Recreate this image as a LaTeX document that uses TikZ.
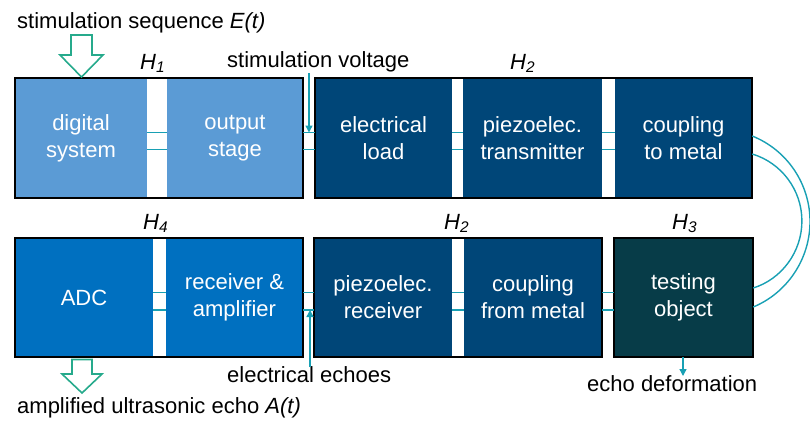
\documentclass[tikz,border=0pt]{standalone}
\usepackage{fontspec}
\setmainfont{Liberation Sans}
\usetikzlibrary{arrows.meta}
\definecolor{lblue}{HTML}{5B9BD5}
\definecolor{navy}{HTML}{004678}
\definecolor{mblue}{HTML}{0070C0}
\definecolor{dteal}{HTML}{073C48}
\definecolor{tline}{HTML}{18A0B4}
\definecolor{hollow}{HTML}{26AA8C}
\tikzset{
  blk/.style={rectangle, inner sep=0pt, minimum height=120pt, text=white, align=center,
    font=\fontsize{22}{27}\selectfont},
  frame/.style={draw=black, line width=2.5pt},
  conn/.style={draw=tline, line width=1.4pt},
  sig/.style={draw=tline, line width=1.4pt, -{Triangle[length=7pt,width=7pt]}},
  lbl/.style={inner sep=0pt, text=black, font=\fontsize{22}{27}\selectfont},
  hol/.style={draw=hollow, line width=1.6pt, fill=white, line join=miter},
}
\begin{document}
\begin{tikzpicture}[x=1pt,y=-1pt]
\useasboundingbox (0,0) rectangle (810,421);
% top row
\node[blk, fill=lblue, minimum width=132pt] (ds) at (81,138) {digital\\system};
\node[blk, fill=lblue, minimum width=136pt] (os) at (235,138) {output\\stage};
\node[blk, fill=navy, minimum width=137pt] (el) at (383.5,138) {electrical\\load};
\node[blk, fill=navy, minimum width=139pt] (pt) at (532.5,138) {piezoelec.\\transmitter};
\node[blk, fill=navy, minimum width=137pt] (cm) at (683.5,138) {coupling\\to metal};
% bottom row
\node[blk, fill=mblue, minimum width=138pt, minimum height=119pt] (adc) at (84,297.5) {ADC};
\node[blk, fill=mblue, minimum width=137pt, minimum height=119pt] (ra) at (234.5,297.5) {receiver \&\\amplifier};
\node[blk, fill=navy, minimum width=138pt, minimum height=119pt] (pr) at (383,297.5) {piezoelec.\\receiver};
\node[blk, fill=navy, minimum width=138pt, minimum height=119pt] (cf) at (533,297.5) {coupling\\from metal};
\node[blk, fill=dteal, minimum width=139pt, minimum height=119pt] (to) at (683.5,297.5) {testing\\object};
% frames
\draw[frame] (ds.north west) rectangle (os.south east);
\draw[frame] (el.north west) rectangle (cm.south east);
\draw[frame] (adc.north west) rectangle (ra.south east);
\draw[frame] (pr.north west) rectangle (cf.south east);
\draw[frame] (to.north west) rectangle (to.south east);
% connectors top row
\foreach \a/\b in {ds/os, os/el, el/pt, pt/cm}{
  \draw[conn] (\a.east |- 0,132.5) -- (\b.west |- 0,132.5);
  \draw[conn] (\a.east |- 0,149.5) -- (\b.west |- 0,149.5);
}
% connectors bottom row
\foreach \a/\b in {adc/ra, ra/pr, pr/cf, cf/to}{
  \draw[conn] (\a.east |- 0,292.5) -- (\b.west |- 0,292.5);
  \draw[conn] (\a.east |- 0,310) -- (\b.west |- 0,310);
}
% arcs
\draw[conn] (cm.east |- 0,136) .. controls (787,149.9) and (810,183.8) .. (810,221.5)
  .. controls (810,259.2) and (787,293.1) .. (to.east |- 0,307);
\draw[conn] (cm.east |- 0,154) .. controls (781.6,162.8) and (801.9,190.1) .. (801.9,221)
  .. controls (801.9,251.9) and (781.6,279.2) .. (to.east |- 0,288);
% labels
\node[lbl, anchor=base west] (seq) at (17,28) {stimulation sequence \textit{E(t)}};
\node[lbl, anchor=base west] (h1) at (140,69) {\textit{H}\textsubscript{\textit{1}}};
\node[lbl, anchor=base west] (sv) at (227,67) {stimulation voltage};
\node[lbl, anchor=base west] (h2a) at (510,69) {\textit{H}\textsubscript{\textit{2}}};
\node[lbl, anchor=base west] (h4) at (143,229) {\textit{H}\textsubscript{\textit{4}}};
\node[lbl, anchor=base west] (h2b) at (444,229) {\textit{H}\textsubscript{\textit{2}}};
\node[lbl, anchor=base west] (h3) at (672,229) {\textit{H}\textsubscript{\textit{3}}};
\node[lbl, anchor=base west] (ee) at (227,382) {electrical echoes};
\node[lbl, anchor=base west] (amp) at (17,413) {amplified ultrasonic echo \textit{A(t)}};
\node[lbl, anchor=base west] (ed) at (587,391) {echo deformation};
% signal arrows
\coordinate (svtop) at (309,73);
\draw[sig] (svtop) -- (309,132.5);
\coordinate (eebot) at (310,367);
\draw[sig] (eebot) -- (310,310);
\coordinate (edend) at (683,376);
\draw[sig] (to.south -| 683,0) -- (edend);
% hollow arrows
\draw[hol] (71,35) -- (92,35) -- (92,55) -- (103,55) -- (81.5,77) -- (60,55) -- (71,55) -- cycle;
\draw[hol] (72,359.5) -- (92,359.5) -- (92,374) -- (102,374) -- (82,393) -- (62,374) -- (72,374) -- cycle;
\end{tikzpicture}
\end{document}
